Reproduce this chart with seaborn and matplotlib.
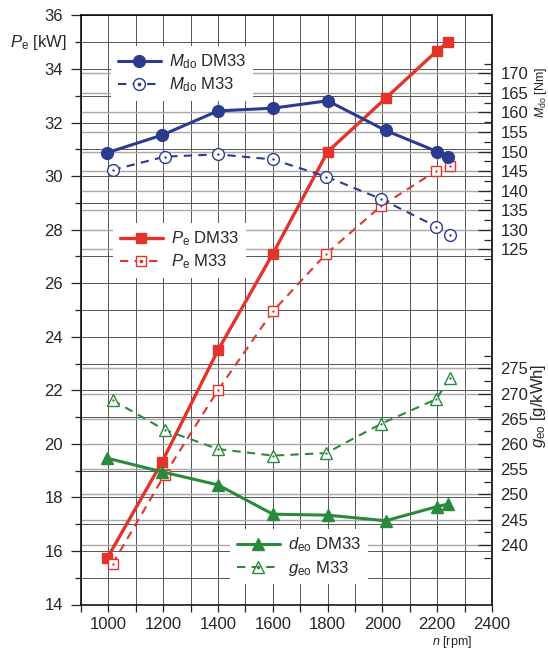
import numpy as np
import matplotlib
matplotlib.use("Agg")
import matplotlib.pyplot as plt
import seaborn as sns
from matplotlib.ticker import MultipleLocator, FixedLocator
from matplotlib.lines import Line2D
from matplotlib.legend_handler import HandlerTuple
from matplotlib.transforms import blended_transform_factory

# ---------------- data ----------------
rpm_dm33 = [995, 1195, 1400, 1600, 1800, 2012, 2200, 2240]
rpm_m33 = [1015, 1205, 1400, 1600, 1795, 1995, 2197, 2245]

pe_dm33 = [15.72, 19.31, 23.5, 27.10, 30.91, 32.91, 34.69, 35.0]
pe_m33 = [15.51, 18.84, 22.01, 24.95, 27.10, 28.88, 30.2, 30.38]

mdo_dm33 = [149.7, 154.2, 160.4, 161.1, 163.0, 155.4, 150.0, 148.5]
mdo_m33 = [145.3, 148.7, 149.3, 148.0, 143.6, 137.9, 130.8, 128.7]

deo_dm33 = [257.2, 254.5, 251.9, 246.1, 245.9, 244.8, 247.6, 248.1]
geo_m33 = [268.7, 262.8, 259.0, 257.7, 258.2, 264.0, 268.9, 273.0]

x_ticks = [1000, 1200, 1400, 1600, 1800, 2000, 2200, 2400]
pe_ticks = [14, 16, 18, 20, 22, 24, 26, 28, 30, 32, 34, 36]
m_ticks = [125, 130, 135, 140, 145, 150, 155, 160, 165, 170]
g_ticks = [240, 245, 250, 255, 260, 265, 270, 275]

labels_m = [r"$M_{\mathrm{do}}$ DM33", r"$M_{\mathrm{do}}$ M33"]
labels_p = [r"$P_{\mathrm{e}}$ DM33", r"$P_{\mathrm{e}}$ M33"]
labels_g = [r"$d_{\mathrm{eo}}$ DM33", r"$g_{\mathrm{eo}}$ M33"]

# ---------------- style ----------------
sns.set_style("ticks")
plt.rcParams["font.family"] = ["Liberation Sans", "DejaVu Sans"]
plt.rcParams["mathtext.fontset"] = "custom"
plt.rcParams["mathtext.rm"] = "Liberation Sans"
plt.rcParams["mathtext.it"] = "Liberation Sans:italic"
plt.rcParams["mathtext.bf"] = "Liberation Sans:bold"

BLUE = "#2c3b92"
RED = "#e3332b"
GREEN = "#2a8a3b"
GRID_DARK = "#555555"
GRID_LIGHT = "#a8a8a8"
DASH = (0, (4, 3))
MS = {"o": 8.5, "s": 7.5, "^": 8.5}

fig = plt.figure(figsize=(5.48, 6.49), dpi=100)
ax = fig.add_axes([81 / 548, 44.5 / 649, 411 / 548, 589 / 649])
ax_m = ax.twinx()
ax_g = ax.twinx()


def draw(axis, x, y, color, marker, filled, lw, dashed):
    sns.lineplot(x=x, y=y, ax=axis, color=color, lw=lw,
                 linestyle=DASH if dashed else "-",
                 marker=marker, markersize=MS[marker],
                 markerfacecolor=color if filled else "white",
                 markeredgecolor=color, markeredgewidth=1.0,
                 legend=False, zorder=3)
    if not filled:
        sns.scatterplot(x=x, y=y, ax=axis, color=color, s=3, linewidth=0,
                        legend=False, zorder=4)


def handle(color, marker, filled, lw, dashed):
    ln = Line2D([], [], color=color, lw=lw, ls=DASH if dashed else "-",
                marker=marker, ms=MS[marker],
                mfc=color if filled else "white", mec=color, mew=1.0)
    if filled:
        return ln
    dot = Line2D([], [], ls="none", marker="o", ms=1.6, color=color)
    return (ln, dot)


# series
draw(ax, rpm_dm33, pe_dm33, RED, "s", True, 2.4, False)
draw(ax, rpm_m33, pe_m33, RED, "s", False, 1.5, True)
draw(ax_m, rpm_dm33, mdo_dm33, BLUE, "o", True, 2.2, False)
draw(ax_m, rpm_m33, mdo_m33, BLUE, "o", False, 1.5, True)
draw(ax_g, rpm_dm33, deo_dm33, GREEN, "^", True, 2.2, False)
draw(ax_g, rpm_m33, geo_m33, GREEN, "^", False, 1.5, True)

# ---------------- main axis ----------------
ax.set_xlim(900, 2400)
ax.set_ylim(14, 36)
ax.xaxis.set_major_locator(FixedLocator(x_ticks))
ax.xaxis.set_minor_locator(MultipleLocator(100))
ax.yaxis.set_major_locator(FixedLocator(pe_ticks))
ax.yaxis.set_minor_locator(MultipleLocator(1))
ax.set_xlabel("")
ax.set_ylabel("")
ax.set_axisbelow(True)
ax.grid(which="both", axis="both", color=GRID_DARK, lw=0.7)
ax.tick_params(axis="y", which="major", direction="out", length=7, width=0.9,
               labelsize=12, pad=6)
ax.tick_params(axis="y", which="minor", direction="out", length=4, width=0.9)
ax.tick_params(axis="x", which="both", direction="out", length=5, width=0.9,
               labelsize=12, pad=4)
ax.tick_params(right=False, top=False, which="both")
for s in ax.spines.values():
    s.set_visible(True)
    s.set_linewidth(1.1)
    s.set_color("black")

# ---------------- right axes ----------------
ax_m.set_ylim(34.2, 184.8)
ax_g.set_ylim(228.2, 344.9)
ax_m.yaxis.set_major_locator(FixedLocator(m_ticks))
ax_m.yaxis.set_minor_locator(FixedLocator(np.arange(122.5, 173, 5)))
ax_g.yaxis.set_major_locator(FixedLocator(g_ticks))
ax_g.yaxis.set_minor_locator(FixedLocator(np.arange(237.5, 278, 5)))
for a in (ax_m, ax_g):
    a.set_ylabel("")
    a.grid(False)
    a.tick_params(axis="y", which="major", direction="in", length=10,
                  width=0.9, labelsize=12, pad=6)
    a.tick_params(axis="y", which="minor", direction="in", length=6, width=0.9)
    for side in ("left", "top", "bottom"):
        a.spines[side].set_visible(False)
ax_g.spines["right"].set_visible(False)
ax_m.spines["right"].set_linewidth(1.1)

# right-axis grid lines drawn beneath the data, in the twin's units
for a, vals in ((ax_m, m_ticks), (ax_g, g_ticks)):
    tr = blended_transform_factory(ax.transAxes, a.transData)
    for v in vals:
        ax.add_line(Line2D([0, 1], [v, v], transform=tr, color=GRID_LIGHT,
                           lw=1.0, zorder=0.6))
ax.set_xlim(900, 2400)
ax.set_ylim(14, 36)

# ---------------- axis titles ----------------
fig.text(10 / 548, 1 - 42.7 / 649, r"$P_{\mathrm{e}}$ [kW]", fontsize=12,
         ha="left", va="center")
fig.text(541 / 548, 1 - 92.5 / 649, r"$M_{\mathrm{do}}$ [Nm]", fontsize=9,
         rotation=90, ha="center", va="center")
fig.text(539 / 548, 1 - 406 / 649, r"$g_{\mathrm{eo}}$ [g/kWh]", fontsize=12,
         rotation=90, ha="center", va="center")
fig.text(452 / 548, 1 - 642 / 649, r"$n$ [rpm]", fontsize=9,
         ha="center", va="center")

# ---------------- legends ----------------
leg_kw = dict(handler_map={tuple: HandlerTuple(ndivide=1, pad=0)}, loc="upper left",
              frameon=True, facecolor="white", edgecolor="none", framealpha=1,
              fancybox=False, fontsize=12, handlelength=2.6, handletextpad=0.5,
              labelspacing=0.25, borderpad=0.4, borderaxespad=0)

fig.legend([handle(BLUE, "o", True, 2.2, False), handle(BLUE, "o", False, 1.5, True)],
           labels_m, bbox_to_anchor=(111 / 548, 1 - 46 / 649), **leg_kw)
fig.legend([handle(RED, "s", True, 2.4, False), handle(RED, "s", False, 1.5, True)],
           labels_p, bbox_to_anchor=(113 / 548, 1 - 223 / 649), **leg_kw)
fig.legend([handle(GREEN, "^", True, 2.2, False), handle(GREEN, "^", False, 1.5, True)],
           labels_g, bbox_to_anchor=(230 / 548, 1 - 529 / 649), **leg_kw)

fig.savefig("out.png", dpi=100)
